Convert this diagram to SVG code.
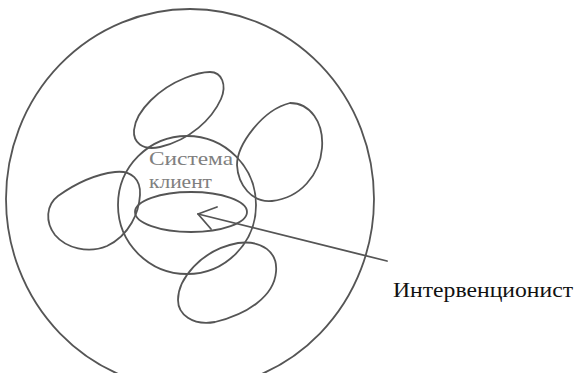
<svg xmlns="http://www.w3.org/2000/svg" width="577" height="373" viewBox="0 0 577 373">
<style>
.ln{fill:none;stroke:#555;stroke-width:1.8;stroke-linecap:round;stroke-linejoin:round}
.inner{font-family:"Liberation Serif","Times New Roman",serif;font-size:19px;fill:#808080}
.lbl{font-family:"Liberation Serif","Times New Roman",serif;font-size:22px;fill:#111}
</style>
<rect width="577" height="373" fill="#fff"/>
<g id="environment">
<ellipse class="ln" cx="190" cy="199" rx="184" ry="190"/>
</g>
<g id="blob-top">
<path class="ln" d="M210,72 C222,72 227,85 221,99 C212,119 190,140 160,147 C142,151 133,142 134,130 C136,110 160,88 185,78 C195,74 203,72 210,72 Z"/>
</g>
<g id="blob-right">
<path class="ln" d="M290,103 C310,103 324,122 322,148 C320,175 300,198 272,201 C252,203 238,185 237,165 C237,145 262,110 290,103 Z"/>
</g>
<g id="blob-left">
<path class="ln" d="M115,172 C132,170 141,180 140,195 C139,212 130,235 107,246 C88,254 66,248 55,235 C45,222 46,205 58,196 C72,186 90,175 115,172 Z"/>
</g>
<g id="blob-bottom">
<path class="ln" d="M238,243 C262,240 278,252 276,272 C274,296 248,314 215,322 C192,326 178,314 178,300 C178,280 200,250 238,243 Z"/>
</g>
<g id="client-system">
<circle class="ln" cx="187" cy="205" r="69"/>
<text class="inner" x="149" y="165" textLength="84" lengthAdjust="spacingAndGlyphs">Система</text>
<text class="inner" x="149" y="188" textLength="63" lengthAdjust="spacingAndGlyphs">клиент</text>
</g>
<g id="interventionist-core">
<ellipse class="ln" cx="191" cy="212" rx="56" ry="20"/>
</g>
<g id="connectors">
<path class="ln" d="M387,261 L198,214"/>
<path class="ln" d="M217,207 L198,214 L211,229"/>
</g>
<g id="interventionist">
<text class="lbl" x="393" y="297" textLength="180" lengthAdjust="spacingAndGlyphs">Интервенционист</text>
</g>
</svg>
